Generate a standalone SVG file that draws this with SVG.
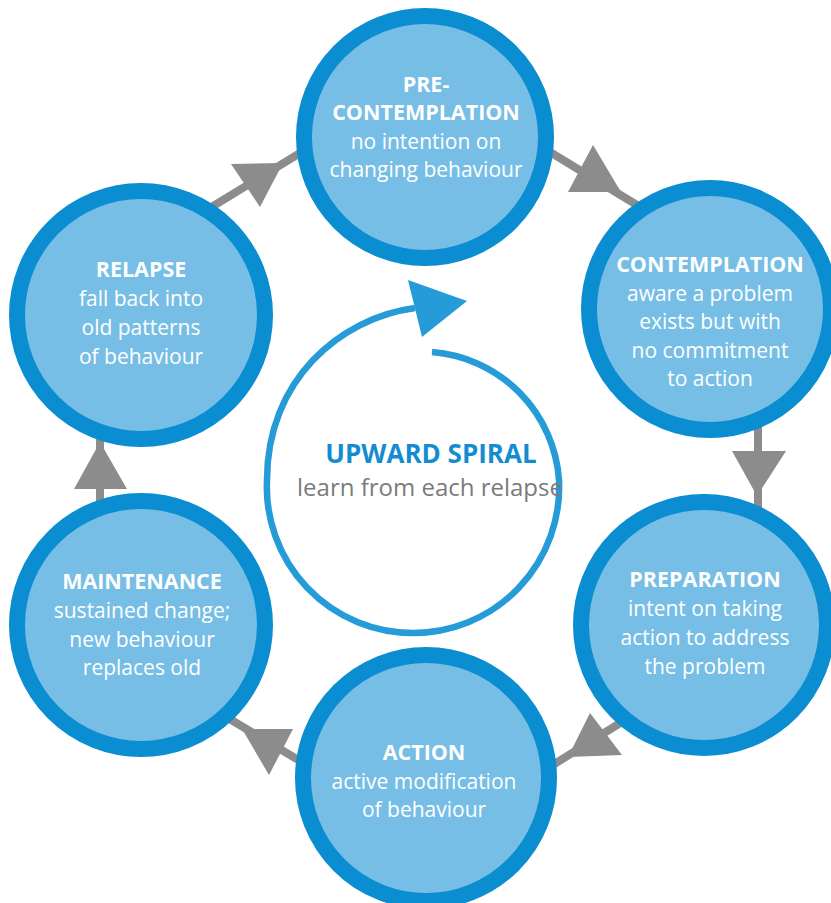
<svg xmlns="http://www.w3.org/2000/svg" width="831" height="903" viewBox="0 0 831 903">
<style>
.ring{fill:#76bee6;stroke:#0a8dd1;stroke-width:16}
.conn{stroke:#8c8c8c;stroke-width:8;fill:none}
.head{fill:#8c8c8c}
.t{font-family:"Open Sans","Liberation Sans",sans-serif;fill:#ffffff;text-anchor:middle}
.h{font-weight:bold;font-size:21.5px}
.b{font-size:21px}
</style>
<rect width="831" height="903" fill="#ffffff"/>
<g id="connectors">
  <line class="conn" x1="545" y1="149" x2="650" y2="213"/>
  <polygon class="head" points="593,145 568,192 621,192"/>
  <line class="conn" x1="758" y1="420" x2="758" y2="510"/>
  <polygon class="head" points="732,451 786,451 757,496"/>
  <line class="conn" x1="625" y1="720" x2="548" y2="768"/>
  <polygon class="head" points="590,713 622,755 568,757"/>
  <line class="conn" x1="305" y1="764" x2="228" y2="718"/>
  <polygon class="head" points="242,729 293,729 269,775"/>
  <line class="conn" x1="100" y1="430" x2="100" y2="505"/>
  <polygon class="head" points="100,442 74,489 127,489"/>
  <line class="conn" x1="210" y1="208" x2="305" y2="150"/>
  <polygon class="head" points="231,164 283,163 260,207"/>
</g>
<g id="upward-spiral">
  <path d="M 432 352 A 138 138 0 0 1 559 480 A 146 146 0 0 1 413 633 A 146 146 0 0 1 267 480 C 267 380 340 318 415 308" fill="none" stroke="#259bd8" stroke-width="6.5"/>
  <polygon points="408,280 467,301 422,337" fill="#259bd8"/>
  <text x="431" y="463" font-family="'Open Sans','Liberation Sans',sans-serif" font-weight="bold" font-size="26" fill="#138dd0" text-anchor="middle">UPWARD SPIRAL</text>
  <text x="430" y="496" font-family="'Open Sans','Liberation Sans',sans-serif" font-size="24" fill="#7b7b7b" text-anchor="middle">learn from each relapse</text>
</g>
<g id="pre-contemplation">
  <circle class="ring" cx="425" cy="137" r="121"/>
  <text class="t h" x="426" y="92">PRE-</text>
  <text class="t h" x="426" y="120">CONTEMPLATION</text>
  <text class="t b" x="426" y="149">no intention on</text>
  <text class="t b" x="426" y="177">changing behaviour</text>
</g>
<g id="contemplation">
  <circle class="ring" cx="710" cy="309" r="121"/>
  <text class="t h" x="710" y="272">CONTEMPLATION</text>
  <text class="t b" x="710" y="301">aware a problem</text>
  <text class="t b" x="710" y="329">exists but with</text>
  <text class="t b" x="710" y="358">no commitment</text>
  <text class="t b" x="710" y="386">to action</text>
</g>
<g id="preparation">
  <circle class="ring" cx="704" cy="625" r="123"/>
  <text class="t h" x="705" y="587">PREPARATION</text>
  <text class="t b" x="705" y="616">intent on taking</text>
  <text class="t b" x="705" y="645">action to address</text>
  <text class="t b" x="705" y="674">the problem</text>
</g>
<g id="action">
  <circle class="ring" cx="426" cy="778" r="123"/>
  <text class="t h" x="424" y="760">ACTION</text>
  <text class="t b" x="424" y="789">active modification</text>
  <text class="t b" x="424" y="817">of behaviour</text>
</g>
<g id="maintenance">
  <circle class="ring" cx="141" cy="625" r="124"/>
  <text class="t h" x="142" y="589">MAINTENANCE</text>
  <text class="t b" x="142" y="618">sustained change;</text>
  <text class="t b" x="142" y="647">new behaviour</text>
  <text class="t b" x="142" y="675">replaces old</text>
</g>
<g id="relapse">
  <circle class="ring" cx="141" cy="315" r="124"/>
  <text class="t h" x="141" y="277">RELAPSE</text>
  <text class="t b" x="141" y="306">fall back into</text>
  <text class="t b" x="141" y="335">old patterns</text>
  <text class="t b" x="141" y="364">of behaviour</text>
</g>
</svg>
